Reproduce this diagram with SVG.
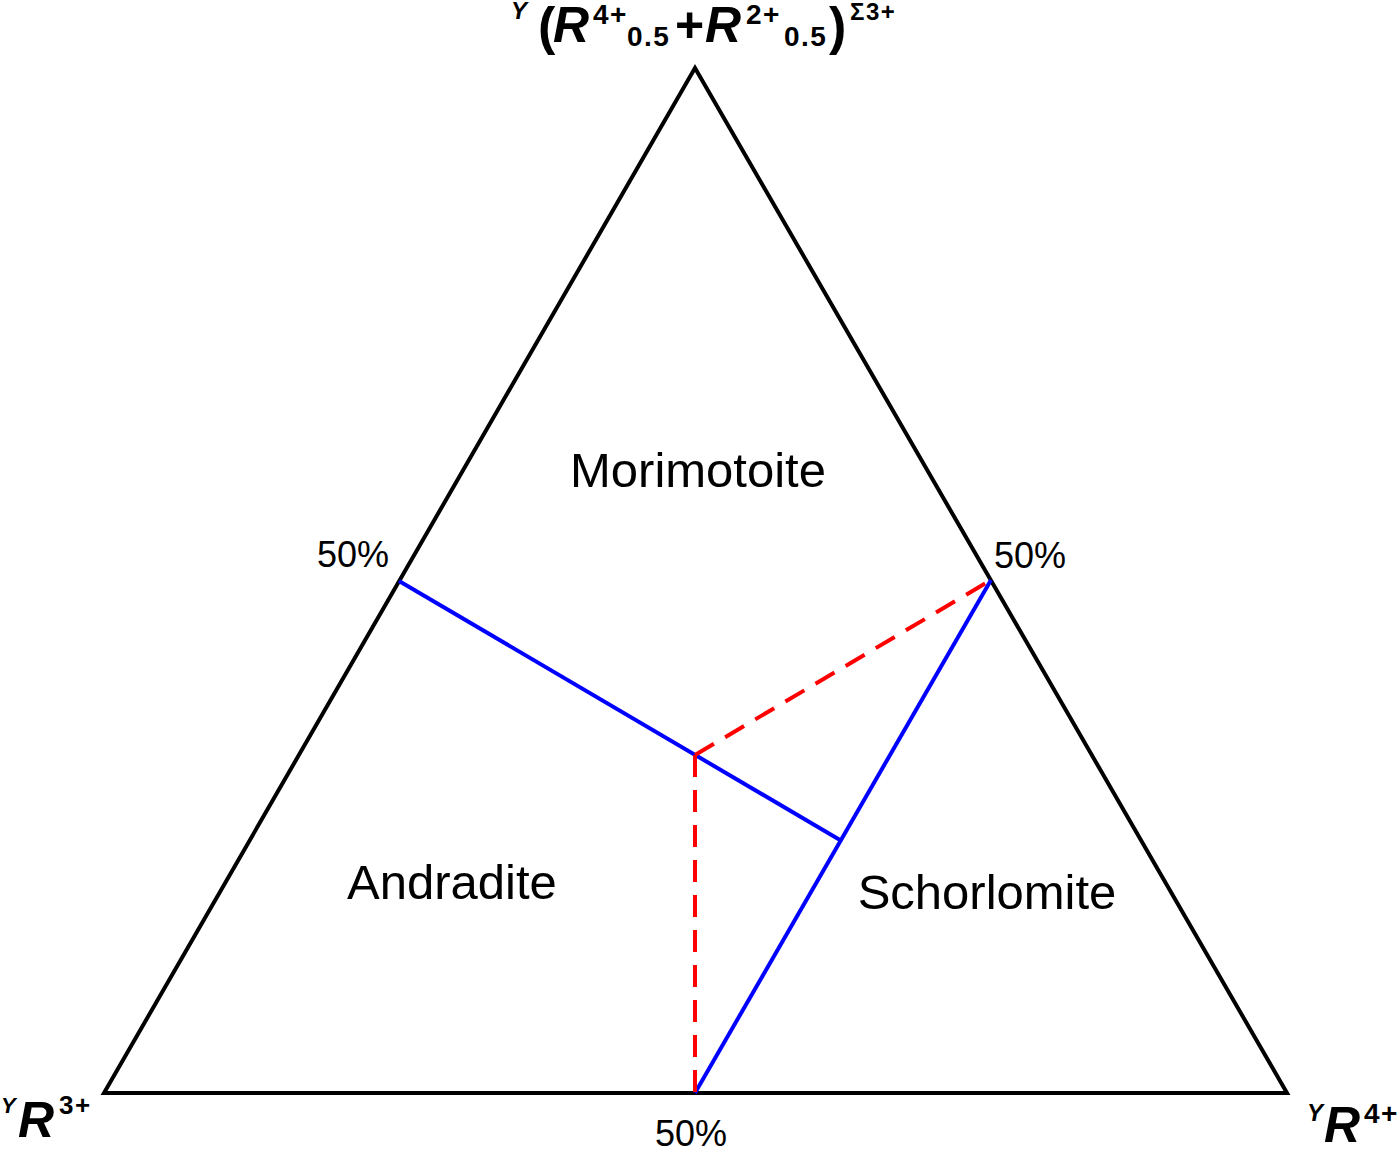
<svg xmlns="http://www.w3.org/2000/svg" width="1400" height="1151" viewBox="0 0 1400 1151">
<style>
.lbl{font-family:"Liberation Sans",Arial,sans-serif;fill:#000}
.name{font-size:49px}
.pct{font-size:36px}
.b{font-weight:bold}
.i{font-style:italic}
.sm{letter-spacing:1.5px}
.blue{stroke:#0000ff;stroke-width:4;fill:none}
.red{stroke:#ff0000;stroke-width:4;fill:none;stroke-dasharray:22 13}
</style>
<rect width="1400" height="1151" fill="#fff"/>
<g id="triangle">
<polygon points="695,68 104,1093 1287,1093" fill="none" stroke="#000" stroke-width="4" stroke-linejoin="miter"/>
</g>
<g id="connectors">
<line class="blue" x1="399" y1="581" x2="840" y2="840"/>
<line class="blue" x1="991" y1="580" x2="695" y2="1093"/>
<line class="red" x1="695" y1="755" x2="991" y2="580"/>
<line class="red" x1="695" y1="755" x2="695" y2="1093"/>
</g>
<g id="top-label" class="lbl b">
<text x="511" y="19" font-size="24" class="i">Y</text>
<text x="538" y="44" font-size="52">(</text>
<text x="553" y="42" font-size="50" class="i">R</text>
<text x="593" y="24" font-size="28" class="sm">4+</text>
<text x="627" y="46" font-size="28" class="sm">0.5</text>
<text x="675" y="42" font-size="50">+</text>
<text x="705" y="42" font-size="50" class="i">R</text>
<text x="746" y="24" font-size="28" class="sm">2+</text>
<text x="784" y="46" font-size="28" class="sm">0.5</text>
<text x="829" y="44" font-size="52">)</text>
<text x="850" y="20" font-size="24" class="sm">Σ3+</text>
</g>
<g id="left-label" class="lbl b">
<text x="1" y="1113" font-size="22" class="i">Y</text>
<text x="18" y="1137" font-size="50" class="i">R</text>
<text x="59" y="1114" font-size="26" class="sm">3+</text>
</g>
<g id="right-label" class="lbl b">
<text x="1307" y="1121" font-size="24" class="i">Y</text>
<text x="1324" y="1142" font-size="50" class="i">R</text>
<text x="1364" y="1123" font-size="28" class="sm">4+</text>
</g>
<g id="morimotoite"><text class="lbl name" x="698" y="487" text-anchor="middle">Morimotoite</text></g>
<g id="andradite"><text class="lbl name" x="452" y="899" text-anchor="middle">Andradite</text></g>
<g id="schorlomite"><text class="lbl name" x="987" y="909" text-anchor="middle">Schorlomite</text></g>
<g id="pct-left"><text class="lbl pct" x="353" y="567" text-anchor="middle">50%</text></g>
<g id="pct-right"><text class="lbl pct" x="1030" y="568" text-anchor="middle">50%</text></g>
<g id="pct-bottom"><text class="lbl pct" x="691" y="1146" text-anchor="middle">50%</text></g>
</svg>
